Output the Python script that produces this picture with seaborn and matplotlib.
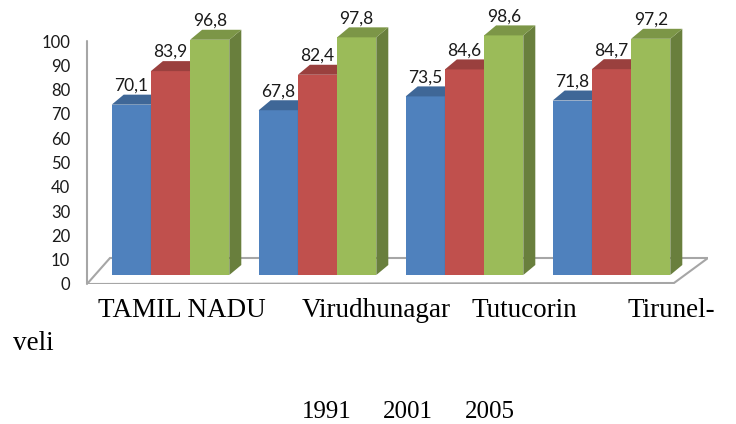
import numpy as np
import pandas as pd
import matplotlib
matplotlib.use("Agg")
import matplotlib.pyplot as plt
import matplotlib.transforms as mtransforms
from matplotlib.patches import Polygon
from matplotlib.colors import to_rgb
import seaborn as sns

districts = ["TAMIL NADU", "Virudhunagar", "Tutucorin", "Tirunelveli"]
years = ["1991", "2001", "2005"]
rate_1991 = [70.1, 67.8, 73.5, 71.8]
rate_2001 = [83.9, 82.4, 84.6, 84.7]
rate_2005 = [96.8, 97.8, 98.6, 97.2]
yticks = list(range(0, 101, 10))

colors = ["#4F81BD", "#C0504D", "#9BBB59"]

W, H = 736, 424
sns.set_theme(style="white")
plt.rcParams["font.family"] = ["Lato", "DejaVu Sans"]
serif = ["Liberation Serif", "DejaVu Serif"]

df = pd.DataFrame({
    "district": districts * len(years),
    "year": [y for y in years for _ in districts],
    "rate": rate_1991 + rate_2001 + rate_2005,
})


def shade(c, f):
    r, g, b = to_rgb(c)
    return (r * f, g * f, b * f)


def main():
    fig = plt.figure(figsize=(W / 100, H / 100), dpi=100)
    # plot box in pixels: x 87..708, y 0..284 (from top)
    ax = fig.add_axes([87 / W, (H - 284) / H, (708 - 87) / W, 284 / H])
    sns.barplot(data=df, x="district", y="rate", hue="year", order=districts,
                hue_order=years, palette=colors, saturation=1, width=0.8,
                errorbar=None, legend=False, linewidth=0, ax=ax)

    slot, unit = 147.0, 2.43  # px per category, px per percent
    ax.set_xlim((87 - 170.5) / slot, (708 - 170.5) / slot)
    ax.set_ylim((275 - 284) / unit, 275 / unit)
    sns.despine(ax=ax, left=True, bottom=True)
    ax.set_xlabel(""); ax.set_ylabel("")
    ax.set_xticks([])

    # floor of the 3d box
    floor = Polygon([(0, 0), (23 / 621, 26 / 284), (1, 26 / 284), (587 / 621, 1 / 284)],
                    closed=True, transform=ax.transAxes, fc="white", ec="#A6A6A6",
                    lw=1.5, zorder=1)
    ax.add_patch(floor)

    # value axis drawn at the front of the floor (9 px below bar baseline)
    down = ax.transData + mtransforms.Affine2D().translate(0, -9)
    ax.plot([ax.get_xlim()[0]] * 2, [0, 100], transform=down, color="#A6A6A6",
            lw=1.5, zorder=1.5, clip_on=False)
    ax.set_yticks(yticks)
    ax.set_yticklabels([str(t) for t in yticks])
    ax.tick_params(axis="y", length=0, pad=12, labelsize=12, labelcolor="#1a1a1a")
    for lab in ax.get_yticklabels():
        lab.set_transform(lab.get_transform() + mtransforms.Affine2D().translate(0, -9))

    def shift(x, y, dx=12, dy=10):
        d = ax.transData.transform((x, y)) + np.array([dx, dy])
        return tuple(ax.transData.inverted().transform(d))

    for k, cont in enumerate(ax.containers):
        col = colors[k]
        for bar in cont:
            x0, w, h = bar.get_x(), bar.get_width(), bar.get_height()
            bar.set_zorder(2 + 3 * k)
            top = Polygon([(x0, h), (x0 + w, h), shift(x0 + w, h), shift(x0, h)],
                          closed=True, fc=shade(col, 0.8), ec="none", zorder=3 + 3 * k)
            side = Polygon([(x0 + w, 0), (x0 + w, h), shift(x0 + w, h), shift(x0 + w, 0)],
                           closed=True, fc=shade(col, 0.68), ec="none", zorder=3 + 3 * k)
            ax.add_patch(side)
            ax.add_patch(top)
            ax.annotate(f"{h:.1f}".replace(".", ","), (x0 + w / 2, h),
                        xytext=(0, 14 * 0.72), textcoords="offset points",
                        ha="center", va="baseline", fontsize=12.5, color="#1a1a1a",
                        zorder=20)

    # category names, set as running text below the chart
    last = districts[3]
    cat_text = [(districts[0], 98, 317), (districts[1], 302, 317), (districts[2], 472, 317),
                (last[:7] + "-", 628, 317), (last[7:], 13, 350)]
    for s, x, y in cat_text:
        fig.text(x / W, 1 - y / H, s, family=serif, fontsize=19.5, va="baseline",
                 ha="left", color="black")

    for s, x in zip(years, [302, 383, 465]):
        fig.text(x / W, 1 - 418 / H, s, family=serif, fontsize=18, va="baseline",
                 ha="left", color="black")

    fig.savefig("out.png", dpi=100)


if __name__ == "__main__":
    main()
